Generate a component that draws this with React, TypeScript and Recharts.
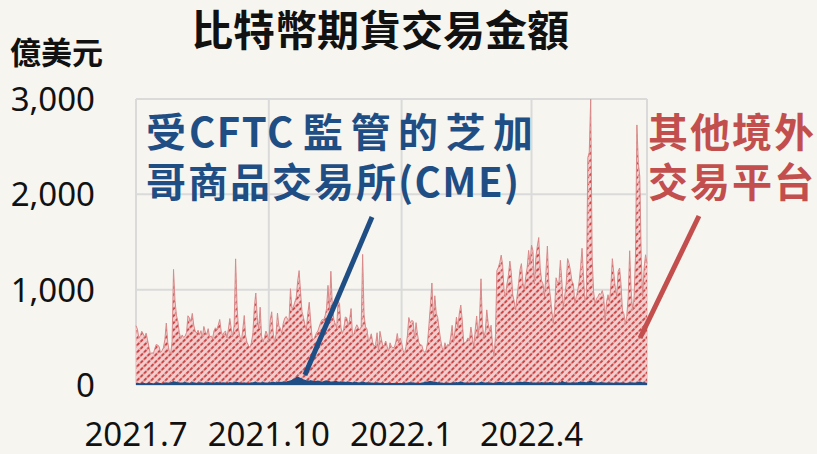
import React from "react";
import { AreaChart, Area, XAxis, YAxis, CartesianGrid, ReferenceLine } from "recharts";

// Day index 0 = 2021-07-01, one point per calendar day up to 2022-06-20
const xTicks = [0, 92, 184, 274];
const xTickLabels = ["2021.7", "2021.10", "2022.1", "2022.4"];
const yTicks = [0, 1000, 2000, 3000];

// CME (regulated by CFTC), 億美元
const cme = [
  22,25,20,18,24,26,21,19,23,27,22,20,18,21,25,28,24,20,19,22,26,30,27,24,29,35,42,38,33,28,
  30,27,25,28,32,30,26,24,27,31,29,26,23,25,28,30,27,24,26,29,31,28,25,23,26,30,32,29,27,25,
  28,30,27,24,26,32,29,26,30,38,34,28,25,23,26,29,27,24,22,25,28,30,33,35,30,28,26,29,31,28,26,27,
  28,30,33,36,32,30,34,38,35,33,37,40,38,42,45,50,55,62,70,85,92,80,75,68,60,55,50,46,48,52,47,
  44,42,45,48,44,40,38,42,46,50,45,41,38,36,40,44,41,37,35,38,40,36,33,35,38,34,32,30,33,35,
  32,30,28,31,40,34,30,28,26,29,27,25,24,26,28,25,23,24,26,22,21,23,25,22,20,22,24,21,20,22,23,
  22,24,26,23,25,28,30,27,29,26,24,23,22,24,27,30,32,35,38,42,45,40,38,36,33,30,28,26,25,24,23,
  25,27,24,23,26,28,30,32,29,34,38,33,30,27,25,24,26,28,30,27,25,24,26,30,34,31,28,26,
  28,26,25,27,24,23,26,30,33,35,32,30,28,27,29,31,30,28,26,27,29,32,34,36,33,31,35,38,34,32,30,
  28,27,29,26,25,27,30,32,29,27,26,28,30,33,30,28,27,25,24,26,28,45,40,32,28,26,25,27,29,28,
  26,28,30,33,36,34,38,32,30,35,42,48,40,34,30,28,27,29,31,30,28,26,25,27,28,26,25,24,26,28,30,
  27,26,25,27,24,23,26,28,30,29,27,26,28,33,38,35,30,28,26,24,
];

// Other offshore exchanges, 億美元
const other = [
  600,560,470,500,540,510,480,525,450,370,
  300,320,310,360,400,390,380,320,340,370,
  450,620,420,330,300,420,1170,850,700,640,
  520,460,500,470,480,520,700,680,640,720,
  600,540,520,550,500,540,470,590,530,500,
  560,470,490,460,540,570,550,600,660,540,
  490,520,540,470,560,665,560,480,600,1285,
  800,560,480,430,560,700,480,420,390,370,
  420,520,790,930,680,560,790,480,420,470,
  540,500,430,650,735,520,410,500,720,580,
  560,510,610,660,680,650,620,960,750,750,
  800,830,1000,1120,900,700,650,580,530,700,
  820,620,450,430,470,500,520,570,620,650,
  640,680,750,1000,760,1155,800,650,600,560,
  840,820,560,500,560,680,670,580,650,770,
  480,510,560,600,570,550,580,1330,700,580,
  560,440,460,510,420,380,400,520,330,540,
  460,380,400,440,380,330,420,380,370,370,
  430,520,420,470,420,340,300,380,490,680,
  620,650,640,460,630,510,420,400,390,330,
  310,330,410,600,800,1030,650,900,720,680,
  560,450,370,330,420,370,400,390,480,600,
  420,540,680,580,720,800,650,420,410,440,
  470,440,580,480,370,550,700,480,670,1080,
  600,470,540,760,620,540,600,400,280,480,
  1170,1200,1250,1330,1230,960,900,1030,1120,1270,
  1150,920,850,760,900,1030,1170,1240,1050,960,
  1100,1200,1380,1240,1440,1380,1030,1310,1430,1520,
  1200,1060,1030,900,1160,1430,1040,900,760,620,
  760,1100,1050,1050,1280,1050,780,900,1030,1300,
  1250,1170,1060,1030,830,900,960,1050,1200,1400,
  1100,850,900,2350,2400,2950,1300,950,820,880,
  900,930,920,960,900,650,850,920,850,1020,
  1300,1150,1000,900,1160,1200,1030,760,720,620,
  700,900,1380,960,760,880,1300,2700,2300,2150,
  1300,900,1200,1340,1250,
];

const data = cme.map((v, i) => ({ day: i, cme: v, other: other[i] }));

const BLUE = "#1f4e84";
const RED = "#c24f4d";
const CJK = "'Noto Sans CJK TC', 'Noto Sans', sans-serif";
const NUM = "'Noto Sans', 'Noto Sans CJK TC', sans-serif";

const YTick = (props: any) => {
  const { y, payload } = props;
  return (
    <text x={95} y={y + 12} textAnchor="end" fontSize={33} fontFamily={NUM} fill="#111">
      {Number(payload.value).toLocaleString("en-US")}
    </text>
  );
};

const XTick = (props: any) => {
  const { x, payload } = props;
  const idx = xTicks.indexOf(payload.value);
  return (
    <text x={x} y={446} textAnchor="middle" fontSize={33} fontFamily={NUM} fill="#111">
      {xTickLabels[idx]}
    </text>
  );
};

const ann = { fontSize: 40, fontWeight: 700, fontFamily: CJK } as const;

export default function App() {
  return (
    <div
      style={{
        position: "absolute",
        left: 0,
        top: 0,
        width: 817,
        height: 454,
        background: "#f6f5f0",
        overflow: "hidden",
      }}
    >
      <AreaChart
        width={817}
        height={454}
        data={data}
        margin={{ top: 99, right: 170, bottom: 0, left: 0 }}
      >
        <defs>
          <pattern
            id="hatch"
            width="5"
            height="5"
            patternUnits="userSpaceOnUse"
            patternTransform="rotate(45)"
          >
            <rect width="5" height="5" fill="#f2cdcd" />
            <line x1="1" y1="0" x2="1" y2="5" stroke="#cc4040" strokeWidth="1.9" strokeDasharray="2.6 1.2" />
          </pattern>
        </defs>
        <CartesianGrid stroke="#dadada" strokeWidth={2} />
        <XAxis
          dataKey="day"
          type="number"
          domain={[0, 354]}
          ticks={xTicks}
          tick={<XTick />}
          axisLine={false}
          tickLine={false}
          height={69}
          interval={0}
        />
        <YAxis
          domain={[0, 3000]}
          ticks={yTicks}
          tick={<YTick />}
          axisLine={false}
          tickLine={false}
          width={136}
          interval={0}
        />
        <Area
          type="linear"
          dataKey="cme"
          stackId="a"
          stroke={BLUE}
          strokeWidth={1}
          fill={BLUE}
          fillOpacity={1}
          isAnimationActive={false}
        />
        <Area
          type="linear"
          dataKey="other"
          stackId="a"
          stroke="#d98a8a"
          strokeWidth={1}
          fill="url(#hatch)"
          fillOpacity={1}
          isAnimationActive={false}
        />
        <ReferenceLine
          segment={[{ x: 117, y: 105 }, { x: 163.5, y: 1762 }]}
          stroke={BLUE}
          strokeWidth={5}
          ifOverflow="visible"
        />
        <ReferenceLine
          segment={[{ x: 349.2, y: 493 }, { x: 390, y: 1773 }]}
          stroke={RED}
          strokeWidth={5}
          ifOverflow="visible"
        />
      </AreaChart>
      <svg
        width={817}
        height={454}
        style={{ position: "absolute", left: 0, top: 0, pointerEvents: "none" }}
      >
        <text x={380} y={46} textAnchor="middle" fontSize={42} fontWeight={700} fontFamily={CJK} fill="#111">
          比特幣期貨交易金額
        </text>
        <text x={10} y={64} fontSize={31} fontWeight={700} fontFamily={CJK} fill="#111">
          億美元
        </text>
        <text y={147} {...ann} fill={BLUE}>
          <tspan x={146}>受</tspan>
          <tspan x={189} letterSpacing={1.5}>CFTC</tspan>
          <tspan x={303} letterSpacing={7.5}>監管的芝加</tspan>
        </text>
        <text y={197} {...ann} fill={BLUE}>
          <tspan x={146} letterSpacing={2}>哥商品交易所</tspan>
          <tspan x={398} letterSpacing={1.5}>(CME)</tspan>
        </text>
        <text x={648} y={147} {...ann} fill={RED} letterSpacing={2}>其他境外</text>
        <text x={648} y={197} {...ann} fill={RED} letterSpacing={2}>交易平台</text>
      </svg>
    </div>
  );
}
